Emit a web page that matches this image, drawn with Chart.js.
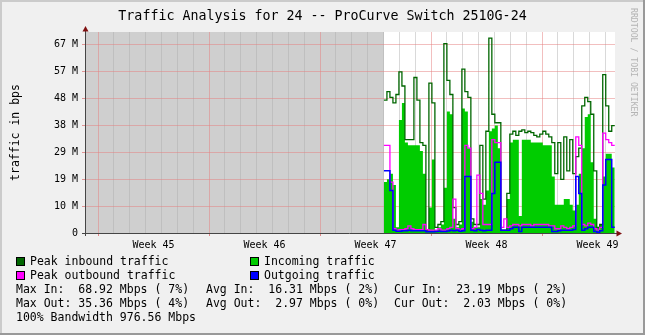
<!DOCTYPE html>
<html>
<head>
<meta charset="utf-8">
<script src="https://cdn.jsdelivr.net/npm/chart.js@4.4.1/dist/chart.umd.min.js"></script>
<style>
  html, body { margin: 0; padding: 0; background: #f0f0f0; }
  #wrap { position: relative; width: 645px; height: 335px; overflow: hidden; }
  #chart { position: absolute; left: 0; top: 0; }
  .txt { position: absolute; font: 11.5px 'DejaVu Sans Mono', monospace; line-height: 14px; height: 14px; white-space: pre; color: #000; }
  .sw { position: absolute; width: 7px; height: 7px; border: 1px solid #000; }
  #credit { position: absolute; left: 629px; top: 8px; writing-mode: vertical-rl; font: 8.2px 'DejaVu Sans Mono', monospace; line-height: 10px; color: #b4b4b4; white-space: pre; }
</style>
</head>
<body>
<div id="wrap">
  <canvas id="chart" width="645" height="335"></canvas>
  <div id="credit">RRDTOOL / TOBI OETIKER</div>
</div>
<script>
// x axis is in days from the left edge of the plot
const xMax = 33.42;
const weekLabels = ['Week 45', 'Week 46', 'Week 47', 'Week 48', 'Week 49'];
const weekStarts = [0.82, 7.82, 14.82, 21.82, 28.82];

// y axis in Mbps
const yMax = 71.1;
const yTickValues = [0, 9.55, 19.1, 28.65, 38.2, 47.75, 57.3, 66.85];
const yTickLabels = ['0', '10 M', '19 M', '29 M', '38 M', '48 M', '57 M', '67 M'];

// samples start where the rrd has data
const sampleStart = 18.85;
const sampleStep = 0.189;

const seriesNames = ['Peak inbound traffic', 'Incoming traffic', 'Peak outbound traffic', 'Outgoing traffic'];
const seriesColors = ['#006600', '#00cc00', '#ff00ff', '#0000ff'];

const peakIn = [
  47, 50, 48, 46, 49, 57, 52, 33, 33, 33,
  55, 47, 32, 31, 1, 53, 46, 2, 3, 4,
  67, 54, 49, 9, 3, 4, 58, 50, 48, 5,
  3, 3, 31, 12, 36, 68.92, 42, 39, 39, 1,
  1, 14, 35, 36, 34.5, 36, 36.5, 35.5, 36, 35.5,
  34.5, 34, 35, 36, 35, 34, 32, 21, 32, 19,
  34, 22, 33, 21, 27, 30, 45, 48, 46.5, 42,
  22, 2, 3, 56, 45, 36, 38
];
const incoming = [
  18, 19, 21, 17, 2, 40, 46, 32, 31, 31,
  31, 31, 29, 21, 1, 9, 26, 1, 2, 3,
  16, 43, 42, 5, 2, 3, 44, 43, 30, 4,
  2, 2, 12, 10, 15, 36, 37, 38, 30, 1,
  1, 12, 32, 33, 33, 6, 33, 33, 33, 32,
  32, 32, 32, 31, 31, 31, 20, 10, 10, 10,
  12, 12, 10, 8, 10, 21, 30, 41, 42, 25,
  5, 2, 3, 20, 28, 28, 23.19
];
const peakOut = [
  31, 31, 18, 1.5, 1, 1.2, 1.2, 1.5, 2.5, 1.5,
  1.2, 1.2, 1.2, 3, 1.2, 1, 1, 1, 1.5, 1,
  1, 1.5, 2, 12, 1.5, 1, 1.5, 31, 30, 1.5,
  2, 20.5, 14, 3, 3, 3, 33, 32, 32, 2,
  5, 2, 2.5, 3, 3, 2.5, 3, 3, 3, 2.5,
  3, 3, 3, 3, 3, 2.5, 2.5, 1.5, 1.5, 2.5,
  2, 1.5, 2, 2.5, 34, 31, 3, 2.5, 3.5, 3,
  1.5, 1, 2, 35.36, 33, 32, 31
];
const outgoing = [
  22, 22, 15, 1, 0.6, 0.6, 0.8, 0.8, 1, 0.8,
  0.8, 0.8, 0.8, 0.8, 0.4, 0.4, 0.4, 0.5, 0.6, 0.5,
  0.5, 0.7, 1, 0.8, 1, 0.6, 0.8, 20, 20, 1,
  0.8, 1.2, 1, 0.8, 1, 1, 14, 25, 25, 1,
  1, 1, 1.5, 2, 2, 0.5, 2, 2, 2, 2,
  2, 2, 2, 2, 2, 2, 0.5, 0.5, 0.8, 1,
  1, 1, 1, 1.2, 20, 14, 1, 1.5, 2, 2,
  0.5, 0.3, 0.8, 17, 26, 26, 2.03
];

const statsIn = ['Max In:  68.92 Mbps ( 7%)', 'Avg In:  16.31 Mbps ( 2%)', 'Cur In:  23.19 Mbps ( 2%)'];
const statsOut = ['Max Out: 35.36 Mbps ( 4%)', 'Avg Out:  2.97 Mbps ( 0%)', 'Cur Out:  2.03 Mbps ( 0%)'];
const bandwidthLine = '100% Bandwidth 976.56 Mbps';

const majorGrid = 'rgba(230,128,128,0.5)';
const minorGrid = 'rgba(170,170,170,0.45)';
const FONT = "'DejaVu Sans Mono', monospace";

// stepped rrd samples, last one held to the end of its step
function toPoints(vals) {
  const pts = vals.map((v, i) => ({ x: sampleStart + i * sampleStep, y: v }));
  pts.push({ x: sampleStart + vals.length * sampleStep, y: vals[vals.length - 1] });
  return pts;
}

function buildXTicks() {
  const ticks = [];
  for (let k = 0; weekStarts[0] + k * 0.5 < xMax; k++) {
    const value = weekStarts[0] + k * 0.5;
    let kind = 'label';
    if (k % 2 === 0) kind = (k % 14 === 0) ? 'week' : 'day';
    const weekLabel = (k % 14 === 7) ? (weekLabels[(k - 7) / 14] || '') : '';
    ticks.push({ value, kind, weekLabel });
  }
  return ticks;
}

const rrdFrame = {
  id: 'rrdFrame',
  beforeDraw(chart) {
    const { ctx, chartArea: a, scales: { x } } = chart;
    ctx.save();
    ctx.fillStyle = '#f0f0f0';
    ctx.fillRect(0, 0, chart.width, chart.height);
    ctx.fillStyle = '#ffffff';
    ctx.fillRect(a.left, a.top, a.right - a.left, a.bottom - a.top);
    // unknown data before the first sample
    const gx = x.getPixelForValue(sampleStart);
    ctx.fillStyle = '#cfcfcf';
    ctx.fillRect(a.left, a.top, gx - a.left, a.bottom - a.top);
    // 3d frame
    ctx.fillStyle = '#cbcbcb';
    ctx.fillRect(0, 0, chart.width, 2);
    ctx.fillRect(0, 0, 2, chart.height);
    ctx.fillStyle = '#999999';
    ctx.fillRect(chart.width - 2, 0, 2, chart.height);
    ctx.fillRect(0, chart.height - 2, chart.width, 2);
    ctx.restore();
  },
  afterDraw(chart) {
    const { ctx, chartArea: a } = chart;
    const l = Math.round(a.left) + 0.5, b = Math.round(a.bottom) + 0.5;
    ctx.save();
    ctx.strokeStyle = '#454545';
    ctx.lineWidth = 1;
    ctx.beginPath();
    ctx.moveTo(l, a.bottom + 3);
    ctx.lineTo(l, a.top - 1);
    ctx.moveTo(a.left - 3, b);
    ctx.lineTo(a.right + 2, b);
    ctx.stroke();
    ctx.fillStyle = '#7f1010';
    ctx.beginPath();
    ctx.moveTo(l - 3, a.top - 0.5);
    ctx.lineTo(l + 3, a.top - 0.5);
    ctx.lineTo(l, a.top - 6);
    ctx.closePath();
    ctx.fill();
    ctx.beginPath();
    ctx.moveTo(a.right + 1.5, b - 3);
    ctx.lineTo(a.right + 1.5, b + 3);
    ctx.lineTo(a.right + 7, b);
    ctx.closePath();
    ctx.fill();
    ctx.restore();
  }
};

const lineDefaults = { stepped: true, pointRadius: 0, fill: false, tension: 0 };

new Chart(document.getElementById('chart'), {
  type: 'line',
  data: {
    datasets: [
      Object.assign({}, lineDefaults, { label: seriesNames[3], data: toPoints(outgoing), borderColor: seriesColors[3], borderWidth: 1.5, order: 0 }),
      Object.assign({}, lineDefaults, { label: seriesNames[2], data: toPoints(peakOut), borderColor: seriesColors[2], borderWidth: 1.3, order: 1 }),
      Object.assign({}, lineDefaults, { label: seriesNames[0], data: toPoints(peakIn), borderColor: seriesColors[0], borderWidth: 1.3, order: 2 }),
      Object.assign({}, lineDefaults, { label: seriesNames[1], data: toPoints(incoming), borderColor: seriesColors[1], backgroundColor: seriesColors[1], borderWidth: 0, fill: 'origin', order: 3 })
    ]
  },
  options: {
    responsive: false,
    animation: false,
    devicePixelRatio: 1,
    layout: { padding: 0 },
    plugins: {
      legend: { display: false },
      tooltip: { enabled: false },
      title: {
        display: true,
        text: 'Traffic Analysis for 24 -- ProCurve Switch 2510G-24',
        color: '#000',
        font: { family: FONT, size: 13.3, weight: 'normal', lineHeight: '16px' },
        padding: { top: 9, bottom: 7 }
      }
    },
    scales: {
      x: {
        type: 'linear',
        min: 0,
        max: xMax,
        afterBuildTicks: s => { s.ticks = buildXTicks(); },
        afterFit: s => { s.height = 102; },
        border: { display: false },
        grid: {
          lineWidth: 1,
          tickLength: 3,
          color: c => (c.tick && c.tick.kind === 'week') ? majorGrid : (c.tick && c.tick.kind === 'day') ? minorGrid : 'rgba(0,0,0,0)',
          tickColor: c => (c.tick && c.tick.kind === 'week') ? 'rgba(220,90,90,0.7)' : 'rgba(0,0,0,0)'
        },
        ticks: {
          autoSkip: false,
          maxRotation: 0,
          padding: 3,
          color: '#000',
          font: { family: FONT, size: 10 },
          callback: (v, i, ticks) => ticks[i].weekLabel || ''
        }
      },
      y: {
        type: 'linear',
        min: 0,
        max: yMax,
        afterBuildTicks: s => { s.ticks = yTickValues.map(v => ({ value: v })); },
        afterFit: s => { s.width = 85; },
        border: { display: false },
        grid: {
          lineWidth: 1,
          tickLength: 3,
          color: c => c.index === 0 ? 'rgba(0,0,0,0)' : majorGrid,
          tickColor: c => c.index === 0 ? '#454545' : 'rgba(220,110,110,0.7)'
        },
        ticks: {
          padding: 4,
          color: '#000',
          font: { family: FONT, size: 10 },
          callback: (v, i) => yTickLabels[i]
        },
        title: {
          display: true,
          text: 'traffic in bps',
          color: '#000',
          font: { family: FONT, size: 11.5 },
          padding: { top: 9, bottom: 0 }
        }
      },
      r: {
        type: 'linear',
        position: 'right',
        display: true,
        grid: { display: false, drawTicks: false },
        ticks: { display: false },
        border: { display: false },
        afterFit: s => { s.width = 30; }
      }
    }
  },
  plugins: [rrdFrame]
});

// legend and summary lines, drawn as page text
const wrap = document.getElementById('wrap');
function addText(str, x, cy) {
  const d = document.createElement('div');
  d.className = 'txt';
  d.textContent = str;
  d.style.left = x + 'px';
  d.style.top = (cy - 7) + 'px';
  wrap.appendChild(d);
}
[0, 1, 2, 3].forEach(k => {
  const col = k % 2, row = Math.floor(k / 2);
  const x = col ? 250 : 16;
  const cy = 261 + row * 14;
  const sw = document.createElement('div');
  sw.className = 'sw';
  sw.style.left = x + 'px';
  sw.style.top = (cy - 4) + 'px';
  sw.style.background = seriesColors[k];
  wrap.appendChild(sw);
  addText(seriesNames[k], x + 14, cy);
});
const statCols = [16, 206, 394];
statsIn.forEach((s, i) => addText(s, statCols[i], 289));
statsOut.forEach((s, i) => addText(s, statCols[i], 303));
addText(bandwidthLine, 16, 317);
</script>
</body>
</html>
